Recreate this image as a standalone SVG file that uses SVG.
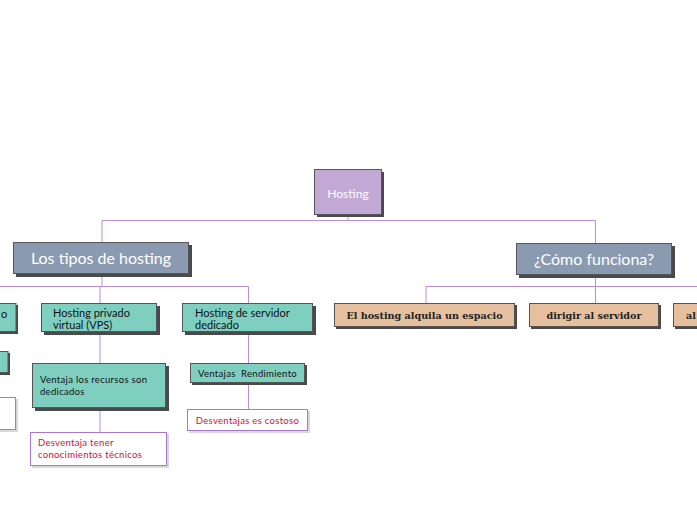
<svg xmlns="http://www.w3.org/2000/svg" width="697" height="520" viewBox="0 0 697 520">
<style>
.sh{fill:#4a4a4a}
.shl{fill:#d8d8d8}
.b{stroke:#555;stroke-width:1}
.root{fill:#c2a8d4}
.main{fill:#8a9bb1}
.teal{fill:#7fcfc1}
.beige{fill:#e6bf9e}
.wb{fill:#fff;stroke:#a779cc;stroke-width:1}
.tw{font-family:Lato,"Open Sans",sans-serif;fill:#fff}
.tk{font-family:Lato,"Open Sans",sans-serif;fill:#111}
.tr{font-family:Lato,"Open Sans",sans-serif;fill:#d0103a}
.sm{letter-spacing:0.3px}
.ts{font-family:"DejaVu Serif","Liberation Serif",serif;font-weight:bold;fill:#222}
.c{stroke:#b98fd8;stroke-width:1;fill:none}
</style>
<rect width="697" height="520" fill="#fff"/>
<g id="connectors">
<path class="c" d="M348,214V220.5M102,220.5H595.5M102,220.5V242M595.5,220.5V243"/>
<path class="c" d="M102,274V286.5M0,286.5H248.5M100,286.5V303M248.5,286.5V303"/>
<path class="c" d="M595.5,275V286.5M426,286.5H697M426,286.5V303M595.5,286.5V303"/>
<path class="c" d="M100,332V363M100,408V432"/>
<path class="c" d="M248.5,332V363M248.5,383V409"/>
</g>
<g id="hosting">
<rect class="sh" x="317" y="172" width="67" height="45"/>
<rect class="root b" x="314.5" y="169.5" width="67" height="45"/>
<text class="tw" x="348" y="198" font-size="12" text-anchor="middle">Hosting</text>
</g>
<g id="tipos">
<rect class="sh" x="16" y="245" width="176" height="32"/>
<rect class="main b" x="13.5" y="242.5" width="175" height="31"/>
<text class="tw" x="101" y="263.5" font-size="16" text-anchor="middle">Los tipos de hosting</text>
</g>
<g id="como">
<rect class="sh" x="519" y="246" width="156" height="32"/>
<rect class="main b" x="516.5" y="243.5" width="155" height="31"/>
<text class="tw" x="594" y="264.5" font-size="16" text-anchor="middle">¿Cómo funciona?</text>
</g>
<g id="left-partial">
<rect class="sh" x="-10" y="305" width="28" height="29"/>
<rect class="teal b" x="-12" y="303.5" width="28" height="28"/>
<text class="tk" x="1" y="318" font-size="11">o</text>
<rect class="sh" x="-10" y="353" width="20" height="22"/>
<rect class="teal b" x="-12" y="351.5" width="20" height="21"/>
<rect class="shl" x="-8" y="399" width="26" height="33"/>
<rect class="wb" x="-10" y="397.5" width="25.5" height="32"/>
</g>
<g id="vps">
<rect class="sh" x="44" y="306" width="116" height="29"/>
<rect class="teal b" x="41.5" y="303.5" width="115" height="28"/>
<text class="tk" x="53" y="317" font-size="11">Hosting privado</text>
<text class="tk" x="53" y="329" font-size="11">virtual (VPS)</text>
</g>
<g id="dedicado">
<rect class="sh" x="185" y="306" width="131" height="29"/>
<rect class="teal b" x="182.5" y="303.5" width="130" height="28"/>
<text class="tk" x="195" y="317" font-size="11">Hosting de servidor</text>
<text class="tk" x="195" y="329" font-size="11">dedicado</text>
</g>
<g id="alquila">
<rect class="sh" x="336" y="305" width="181" height="24"/>
<rect class="beige b" x="334.5" y="303.5" width="180" height="23"/>
<text class="ts" x="424.5" y="318.5" font-size="9.6" text-anchor="middle">El hosting alquila un espacio</text>
</g>
<g id="dirigir">
<rect class="sh" x="531" y="305" width="130" height="24"/>
<rect class="beige b" x="529.5" y="303.5" width="129" height="23"/>
<text class="ts" x="594" y="318.5" font-size="9.6" text-anchor="middle">dirigir al servidor</text>
</g>
<g id="right-partial">
<rect class="sh" x="675" y="305" width="30" height="24"/>
<rect class="beige b" x="673.5" y="303.5" width="30" height="23"/>
<text class="ts" x="686" y="318.5" font-size="9.6">al</text>
</g>
<g id="ventaja-vps">
<rect class="sh" x="35" y="366" width="134" height="45"/>
<rect class="teal b" x="32.5" y="363.5" width="133" height="44"/>
<text class="tk sm" x="40" y="383" font-size="9.5">Ventaja los recursos son</text>
<text class="tk sm" x="40" y="394.5" font-size="9.5">dedicados</text>
</g>
<g id="desventaja-vps">
<rect class="shl" x="32" y="434" width="137" height="34"/>
<rect class="wb" x="30.5" y="432.5" width="136" height="33"/>
<text class="tr sm" x="38" y="445.5" font-size="9.5">Desventaja tener</text>
<text class="tr sm" x="38" y="457.5" font-size="9.5">conocimientos técnicos</text>
</g>
<g id="ventaja-ded">
<rect class="sh" x="192" y="365" width="115" height="20"/>
<rect class="teal b" x="190.5" y="363.5" width="114" height="19"/>
<text class="tk sm" x="247.5" y="376.5" font-size="9.5" text-anchor="middle" xml:space="preserve">Ventajas  Rendimiento</text>
</g>
<g id="desventaja-ded">
<rect class="shl" x="189" y="411" width="121" height="22"/>
<rect class="wb" x="187.5" y="409.5" width="120" height="21"/>
<text class="tr sm" x="247.5" y="423.5" font-size="9.5" text-anchor="middle">Desventajas es costoso</text>
</g>
</svg>
